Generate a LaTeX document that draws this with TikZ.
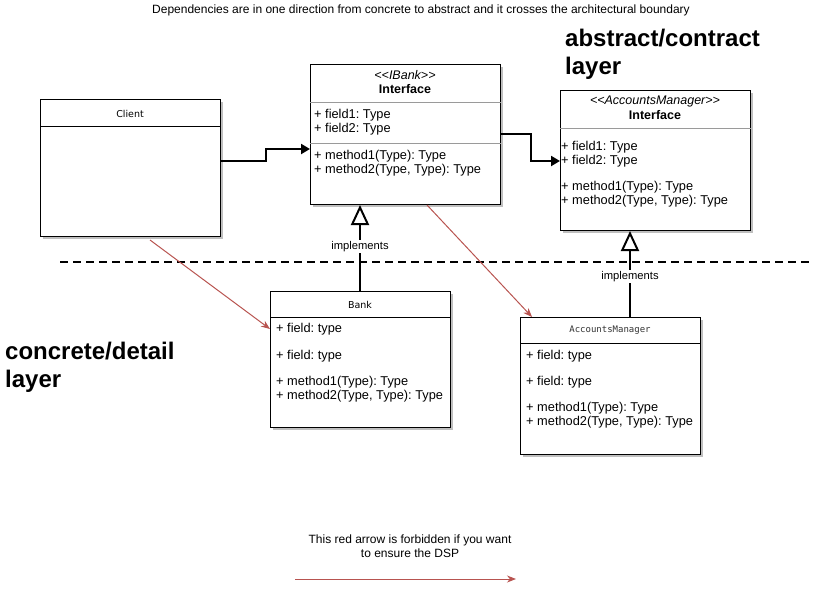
\documentclass[tikz,border=0pt]{standalone}
\usepackage{fontspec}
\setmainfont{Liberation Sans}
\newfontfamily\monofont{DejaVu Sans Mono}
\newfontfamily\smallsans{DejaVu Sans}
\usetikzlibrary{arrows.meta,shadows,calc}
\definecolor{redline}{HTML}{B85450}
\definecolor{divgray}{HTML}{9A9A9A}
\frenchspacing
\begin{document}
\begin{tikzpicture}[x=1pt,y=-1pt,
  umlbox/.style={draw=black, fill=white, line width=1pt, anchor=north west, inner sep=0pt,
    drop shadow={shadow xshift=2pt,shadow yshift=-2pt,opacity=0.25,fill=black}},
  txt/.style={anchor=west, inner sep=0pt, font=\fontsize{12.8}{14}\selectfont},
  ctxt/.style={anchor=center, inner sep=0pt, font=\fontsize{12.8}{14}\selectfont},
  divb/.style={draw=black, line width=1pt},
  divg/.style={draw=divgray, line width=1pt},
  dep/.style={draw=black, line width=2pt, -{Triangle[length=9pt,width=10pt]}},
  impl/.style={draw=black, line width=2pt, -{Triangle[open,length=20pt,width=18pt,fill=white]}},
  implabel/.style={fill=white, inner sep=1.5pt, font=\fontsize{11.2}{12}\selectfont},
  bad/.style={draw=redline, line width=1pt, -{Stealth[length=9pt,width=7pt]}},
  biglabel/.style={anchor=north west, inner sep=0pt, align=left, font=\fontsize{24}{28}\selectfont\bfseries},
]
\useasboundingbox (0,0) rectangle (819,595);

% title
\node[ctxt, font=\fontsize{12}{14}\selectfont] (title) at (421,10) {Dependencies are in one direction from concrete to abstract and it crosses the architectural boundary};

% layer labels
\node[biglabel] (abstractlbl) at (565,29) {abstract/contract\\layer};
\node[biglabel] (concretelbl) at (5,342) {concrete/detail\\layer};

% dashed boundary
\coordinate (b1) at (60,262);
\coordinate (b2) at (812,262);
\draw[line width=2pt, dash pattern=on 8pt off 5pt] (b1) -- (b2);

% Client
\node[umlbox, minimum width=180pt, minimum height=137pt] (client) at (40,99) {};
\draw[divb] ([yshift=-27pt]client.north west) -- ([yshift=-27pt]client.north east);
\node[ctxt, font=\smallsans\fontsize{9.5}{11}\selectfont] (clientname) at (130,114) {Client};

% IBank interface
\node[umlbox, minimum width=190pt, minimum height=140pt] (ibank) at (310,64) {};
\draw[divg] ([yshift=-38pt]ibank.north west) -- ([yshift=-38pt]ibank.north east);
\draw[divg] ([yshift=-79pt]ibank.north west) -- ([yshift=-79pt]ibank.north east);
\node[ctxt, font=\fontsize{12.5}{14}\selectfont\itshape] (ibst) at (405,75) {<{}<IBank>{}>};
\node[ctxt, font=\fontsize{12.5}{14}\selectfont\bfseries] (ibname) at (405,89) {Interface};
\node[txt] (ibf1) at (314,115) {+ field1: Type};
\node[txt] (ibf2) at (314,129) {+ field2: Type};
\node[txt] (ibm1) at (314,156) {+ method1(Type): Type};
\node[txt] (ibm2) at (314,170) {+ method2(Type, Type): Type};

% AccountsManager interface
\node[umlbox, minimum width=190pt, minimum height=140pt] (ami) at (560,90) {};
\draw[divg] ([yshift=-38pt]ami.north west) -- ([yshift=-38pt]ami.north east);
\node[ctxt, font=\fontsize{12.5}{14}\selectfont\itshape] (amst) at (655,101) {<{}<AccountsManager>{}>};
\node[ctxt, font=\fontsize{12.5}{14}\selectfont\bfseries] (amname) at (655,115) {Interface};
\node[txt] (amf1) at (561,147) {+ field1: Type};
\node[txt] (amf2) at (561,161) {+ field2: Type};
\node[txt] (amm1) at (561,187) {+ method1(Type): Type};
\node[txt] (amm2) at (561,201) {+ method2(Type, Type): Type};

% Bank
\node[umlbox, minimum width=180pt, minimum height=136pt] (bank) at (270,291) {};
\draw[divb] ([yshift=-26pt]bank.north west) -- ([yshift=-26pt]bank.north east);
\node[ctxt, font=\smallsans\fontsize{9.5}{11}\selectfont] (bankname) at (360,305) {Bank};
\node[txt] (bf1) at (276,329) {+ field: type};
\node[txt] (bf2) at (276,356) {+ field: type};
\node[txt] (bm1) at (276,382) {+ method1(Type): Type};
\node[txt] (bm2) at (276,396) {+ method2(Type, Type): Type};

% AccountsManager class
\node[umlbox, minimum width=180pt, minimum height=137pt] (amc) at (520,317) {};
\draw[divb] ([yshift=-26pt]amc.north west) -- ([yshift=-26pt]amc.north east);
\node[ctxt, font=\monofont\fontsize{9}{11}\selectfont, text=black!80] (amcname) at (610,330) {AccountsManager};
\node[txt] (cf1) at (526,356) {+ field: type};
\node[txt] (cf2) at (526,382) {+ field: type};
\node[txt] (cm1) at (526,408) {+ method1(Type): Type};
\node[txt] (cm2) at (526,422) {+ method2(Type, Type): Type};

% dependencies
\draw[dep] ([yshift=-62pt]client.north east) -- ++(45,0) |- ([yshift=-85pt]ibank.north west);
\draw[dep] ([yshift=-70pt]ibank.north east) -- ++(30,0) |- ([yshift=-71pt]ami.north west);

% implements
\draw[impl] ([xshift=90pt]bank.north west) -- node[implabel, pos=0.52] (impl1) {implements} ([xshift=90pt]bank.north west |- ibank.south);
\draw[impl] ([xshift=110pt]amc.north west) -- node[implabel, pos=0.47] (impl2) {implements} ([xshift=110pt]amc.north west |- ami.south);

% forbidden red arrows
\coordinate (r1s) at (150,240);
\draw[bad] (r1s) -- ([yshift=-38pt]bank.north west);
\coordinate (r2s) at (427,205);
\draw[bad] (r2s) -- ([xshift=12pt]amc.north west);

% legend
\node[ctxt, align=center, font=\fontsize{12}{13.5}\selectfont] (legend) at (410,546) {This red arrow is forbidden if you want\\to ensure the DSP};
\coordinate (l1) at (295,579);
\coordinate (l2) at (516,579);
\draw[bad] (l1) -- (l2);
\end{tikzpicture}
\end{document}
